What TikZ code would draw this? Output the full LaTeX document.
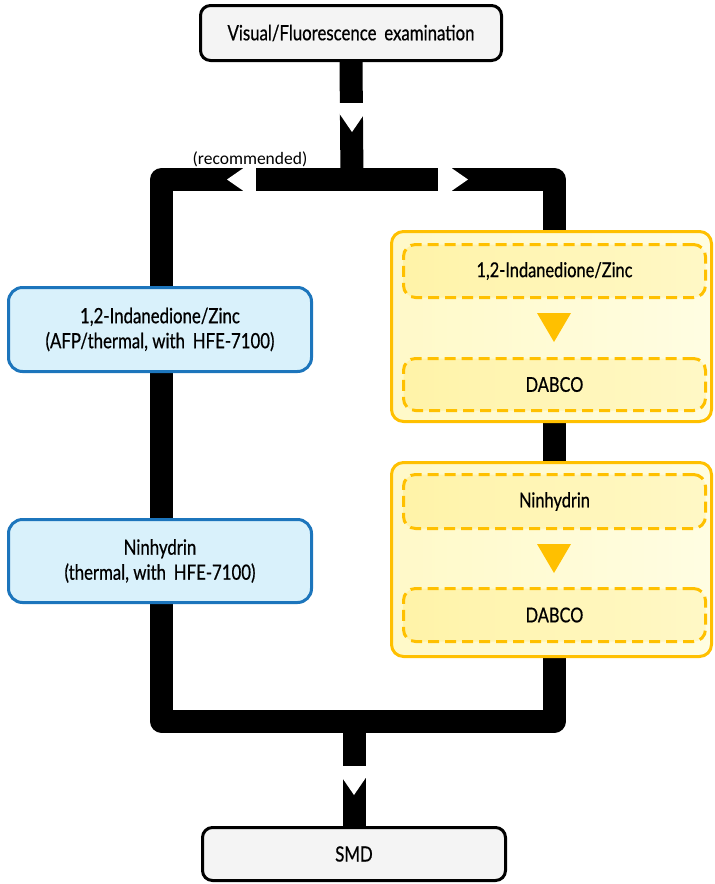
\documentclass[tikz,border=0pt]{standalone}
\usepackage{fontspec}
\setmainfont[FakeStretch=0.8,FakeBold=0.6]{Lato}
\newfontfamily\recfont{Carlito}
\usetikzlibrary{backgrounds}
\definecolor{boxgray}{HTML}{F4F4F4}
\definecolor{blueline}{HTML}{1C75BC}
\definecolor{bluefill}{HTML}{D9F1FB}
\definecolor{gold}{HTML}{FFC000}
\definecolor{yelA}{HTML}{FFF9C8}
\definecolor{yelB}{HTML}{FFFDE2}
\definecolor{yelC}{HTML}{FFF3A8}
\definecolor{yelD}{HTML}{FFF8C6}
\begin{document}
\begin{tikzpicture}[x=1pt,y=-1pt,
  graybox/.style={draw=black, line width=3pt, fill=boxgray, rounded corners=10pt,
    minimum width=301pt, minimum height=55pt, inner sep=0pt,
    font=\fontsize{21}{25}\selectfont},
  bluebox/.style={draw=blueline, line width=3pt, fill=bluefill, rounded corners=14pt,
    minimum width=303pt, minimum height=84pt, inner sep=0pt, align=center,
    font=\fontsize{21}{25}\selectfont},
  groupbox/.style={draw=gold, line width=3pt, left color=yelA, right color=yelB,
    rounded corners=12pt, minimum width=320pt, minimum height=#1, inner sep=0pt},
  stepbox/.style={draw=gold, line width=3pt, dash pattern=on 11pt off 6pt,
    left color=yelC, right color=yelD, rounded corners=12pt,
    minimum width=302pt, minimum height=53pt, inner sep=0pt,
    font=\fontsize{20.5}{24}\selectfont},
  tri/.style={fill=gold},
  bar/.style={line width=23pt, line join=round, draw=black},
  gap/.style={fill=white}]
\useasboundingbox (0,0) rectangle (715,884);

% nodes
\node[graybox] (top) at (351,33) {Visual/Fluorescence\, examination};
\node[graybox, minimum width=303pt, minimum height=53pt] (smd) at (354,854) {SMD};

\node[bluebox] (ind) at (160,329.5) {1,2-Indanedione/Zinc\\(AFP/thermal, with\, HFE-7100)};
\node[bluebox, minimum height=83pt] (nin) at (160,561) {Ninhydrin\\(thermal, with\, HFE-7100)};

\node[groupbox=190pt] (g1) at (551.5,326.5) {};
\node[stepbox] (g1a) at (554.5,271) {1,2-Indanedione/Zinc};
\node[stepbox, minimum height=52pt] (g1b) at (554.5,384.5) {DABCO};
\fill[tri] (537,313) -- (571,313) -- (554,342) -- cycle;

\node[groupbox=194pt] (g2) at (551.5,559.5) {};
\node[stepbox, minimum height=54pt] (g2a) at (554.5,501.5) {Ninhydrin};
\node[stepbox] (g2b) at (554.5,615) {DABCO};
\fill[tri] (537,544) -- (571,544) -- (554,573) -- cycle;

\node[font=\recfont\fontsize{17.5}{20}\selectfont, inner sep=0pt, anchor=base] (rec) at (250,164) {(recommended)};

% connectors
\coordinate (split) at (352,179.5);
\coordinate (tl) at (161.5,179.5);
\coordinate (tr) at (554.5,179.5);
\coordinate (bl) at (161.5,721);
\coordinate (br) at (554.5,721);
\coordinate (merge) at (354,721);

\begin{pgfonlayer}{background}
\draw[bar] (top.south) -- (split);
\draw[bar] (split) -- (tl) -- (bl) -- (br) -- (tr) -- cycle;
\draw[bar] (merge) -- (smd.north);
% gaps and notches
\fill[gap] (339,103) rectangle (365,113);
\fill[gap] (339,113) -- (365,113) -- (352,132) -- cycle;
\fill[gap] (245,166) rectangle (256,194);
\fill[gap] (245,167) -- (245,192) -- (227,179.5) -- cycle;
\fill[gap] (438,166) rectangle (450,194);
\fill[gap] (450,167) -- (450,192) -- (468,179.5) -- cycle;
\fill[gap] (341,766) rectangle (367,776);
\fill[gap] (341,776) -- (367,776) -- (354,795) -- cycle;
\end{pgfonlayer}
\end{tikzpicture}
\end{document}
